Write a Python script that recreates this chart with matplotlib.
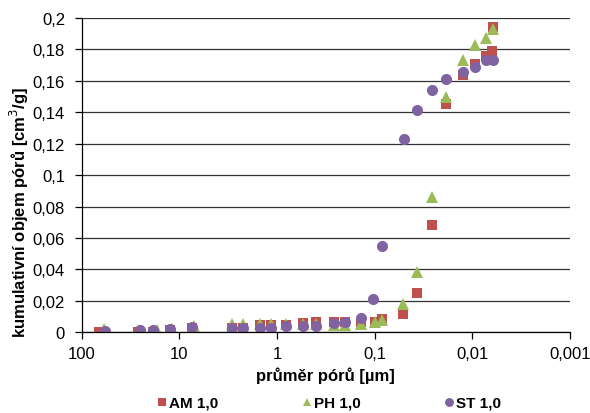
import matplotlib
matplotlib.use("Agg")
import matplotlib.pyplot as plt
from matplotlib.ticker import FixedLocator, NullLocator, FuncFormatter

plt.rcParams["font.family"] = ["Liberation Sans", "DejaVu Sans"]

# pore diameter [um] and cumulative pore volume [cm3/g]
am_d = [66.5, 26.4, 18.5, 12.5, 7.38, 2.92, 2.22, 1.50, 1.14, 0.81, 0.54, 0.40,
        0.262, 0.202, 0.139, 0.0995, 0.0834, 0.0508, 0.0365, 0.026, 0.0187,
        0.0125, 0.0094, 0.0073, 0.0063, 0.0061]
am_v = [0.0003, 0.0, 0.0003, 0.0015, 0.0025, 0.0028, 0.003, 0.0048, 0.0048, 0.0048,
        0.006, 0.0065, 0.0066, 0.0066, 0.0068, 0.0066, 0.0087, 0.0115, 0.0248,
        0.0683, 0.145, 0.1637, 0.171, 0.176, 0.179, 0.194]

ph_d = [59.0, 26.0, 17.0, 12.0, 7.1, 2.92, 2.22, 1.50, 1.14, 0.81, 0.54, 0.40,
        0.262, 0.202, 0.139, 0.0995, 0.0834, 0.0508, 0.0365, 0.026, 0.0187,
        0.0125, 0.0094, 0.0073, 0.0061]
ph_v = [0.002, 0.0015, 0.0015, 0.002, 0.004, 0.005, 0.005, 0.005, 0.005, 0.005,
        0.005, 0.005, 0.0045, 0.0048, 0.0053, 0.0064, 0.0078, 0.018, 0.0384,
        0.0858, 0.1495, 0.1733, 0.1826, 0.187, 0.193]

st_d = [57.8, 25.5, 18.5, 12.5, 7.38, 2.92, 2.22, 1.50, 1.14, 0.81, 0.54, 0.40,
        0.262, 0.202, 0.139, 0.1035, 0.0834, 0.0497, 0.0365, 0.026, 0.0187,
        0.0125, 0.0094, 0.0073, 0.0062]
st_v = [0.0006, 0.0017, 0.0017, 0.002, 0.0032, 0.0029, 0.003, 0.003, 0.003, 0.0043,
        0.0042, 0.0042, 0.0057, 0.0064, 0.0091, 0.0212, 0.0546, 0.1229, 0.1414,
        0.154, 0.161, 0.1654, 0.169, 0.173, 0.1734]

x_ticks = [100, 10, 1, 0.1, 0.01, 0.001]
y_ticks = [0, 0.02, 0.04, 0.06, 0.08, 0.1, 0.12, 0.14, 0.16, 0.18, 0.2]


def comma(v, pos=None):
    return f"{v:g}".replace(".", ",")


fig = plt.figure(figsize=(5.9, 4.14), dpi=100)
ax = fig.add_axes([0.1385, 0.195, 0.8275, 0.759])

ax.plot(am_d, am_v, "s", color="#C0504D", markersize=7, markeredgewidth=0, label="AM 1,0")
ax.plot(ph_d, ph_v, "^", color="#9BBB59", markersize=8, markeredgewidth=0, label="PH 1,0")
ax.plot(st_d, st_v, "o", color="#8064A2", markersize=8, markeredgewidth=0, label="ST 1,0")

ax.set_xscale("log")
ax.set_xlim(100, 0.001)
ax.set_ylim(0, 0.2)
ax.xaxis.set_major_locator(FixedLocator(x_ticks))
ax.xaxis.set_minor_locator(NullLocator())
ax.xaxis.set_major_formatter(FuncFormatter(comma))
ax.yaxis.set_major_locator(FixedLocator(y_ticks))
ax.yaxis.set_major_formatter(FuncFormatter(comma))

ax.grid(axis="y", color="#333333", linewidth=0.9)
ax.set_axisbelow(True)
for side in ["top", "right"]:
    ax.spines[side].set_visible(False)
for side in ["left", "bottom"]:
    ax.spines[side].set_color("black")
    ax.spines[side].set_linewidth(0.9)
ax.tick_params(direction="out", length=5, width=0.9, labelsize=12)
ax.tick_params(axis="x", pad=5)
ax.tick_params(axis="y", pad=7)

ax.set_xlabel("průměr pórů [µm]", fontsize=12, fontweight="bold", labelpad=4)
ax.set_ylabel("kumulativní objem pórů [cm$^3$/g]", fontsize=12, fontweight="bold")
ax.yaxis.set_label_coords(-0.104, 0.386)

fig.legend(loc="center left", bbox_to_anchor=(158 / 590, 10 / 414), ncol=3, frameon=False,
           prop={"weight": "bold", "size": 11}, handlelength=0.5, handletextpad=0.25,
           columnspacing=5.5, markerscale=0.8, borderpad=0, borderaxespad=0)

fig.savefig("out.png", dpi=100)
